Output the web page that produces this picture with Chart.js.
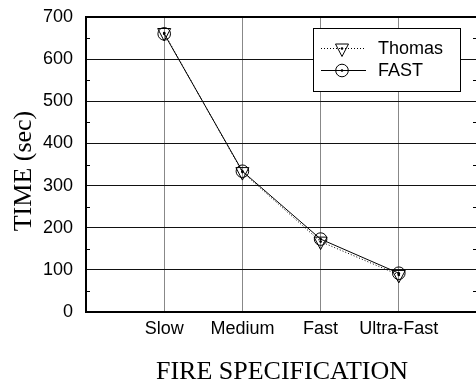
<!DOCTYPE html>
<html>
<head>
<meta charset="utf-8">
<script src="https://cdn.jsdelivr.net/npm/chart.js@4.4.1/dist/chart.umd.min.js"></script>
<style>
  html, body { margin: 0; padding: 0; background: #fff; overflow: hidden; }
  #wrap { width: 476px; height: 383px; overflow: hidden; }
  canvas { display: block; }
</style>
</head>
<body>
<div id="wrap"><canvas id="c" width="482" height="383"></canvas></div>
<script>
// Fire growth classes and time to reach the reference heat release rate
const categories = ['Slow', 'Medium', 'Fast', 'Ultra-Fast'];
const thomasTime = [662, 332, 167, 88];
const fastTime = [660, 334, 173, 92];
const yTicks = [0, 100, 200, 300, 400, 500, 600, 700];

const SANS = "'Liberation Sans', Arial, sans-serif";
const SERIF = "'Liberation Serif', 'Times New Roman', serif";

// Marker glyphs: open circle with centre dot, open down-triangle with centre dot
function drawCircleMarker(ctx, x, y) {
  ctx.beginPath(); ctx.arc(x, y, 6.3, 0, Math.PI * 2); ctx.stroke();
  ctx.beginPath(); ctx.arc(x, y, 1.3, 0, Math.PI * 2); ctx.fill();
}
function drawTriangleMarker(ctx, x, y) {
  ctx.beginPath();
  ctx.moveTo(x - 6.5, y - 4.5); ctx.lineTo(x + 6.5, y - 4.5); ctx.lineTo(x, y + 8);
  ctx.closePath(); ctx.stroke();
  ctx.beginPath(); ctx.arc(x, y, 1.3, 0, Math.PI * 2); ctx.fill();
}
const markerFns = [drawTriangleMarker, drawCircleMarker];

const toPoints = arr => arr.map((v, i) => ({ x: i + 1, y: v }));

// Markers, frame, inner minor ticks, axis titles and boxed legend
const decorations = {
  id: 'decorations',
  afterDatasetsDraw(chart) {
    const { ctx, chartArea: a, scales } = chart;
    const y = scales.y;
    ctx.save();
    ctx.strokeStyle = '#000'; ctx.fillStyle = '#000'; ctx.lineWidth = 1;

    // markers at each data point position
    chart.data.datasets.forEach((ds, di) => {
      chart.getDatasetMeta(di).data.forEach(pt => markerFns[di](ctx, pt.x, pt.y));
    });

    // minor ticks at the half-hundreds, pointing inward on both sides
    for (let v = 50; v < 700; v += 100) {
      const py = Math.round(y.getPixelForValue(v)) + 0.5;
      ctx.beginPath();
      ctx.moveTo(a.left, py); ctx.lineTo(a.left + 4, py);
      ctx.moveTo(a.right - 4, py); ctx.lineTo(a.right, py);
      ctx.stroke();
    }
    // plot frame
    ctx.lineWidth = 2;
    ctx.strokeRect(a.left, a.top, a.right - a.left, a.bottom - a.top);

    // axis titles
    ctx.font = '26px ' + SERIF;
    ctx.textAlign = 'center';
    ctx.textBaseline = 'alphabetic';
    ctx.fillText('FIRE SPECIFICATION', 282, 379);
    ctx.save();
    ctx.translate(31, 171);
    ctx.rotate(-Math.PI / 2);
    ctx.fillText('TIME (sec)', 0, 0);
    ctx.restore();

    // legend box
    const bx = 313, by = 28, bw = 147, bh = 63;
    ctx.fillStyle = '#fff';
    ctx.fillRect(bx, by, bw, bh);
    ctx.lineWidth = 1;
    ctx.strokeRect(bx + 0.5, by + 0.5, bw, bh);
    const rows = [
      { label: 'Thomas', dash: [1, 2], fn: drawTriangleMarker, cy: 48 },
      { label: 'FAST', dash: [], fn: drawCircleMarker, cy: 70 }
    ];
    ctx.font = '18px ' + SANS;
    ctx.textAlign = 'left';
    ctx.textBaseline = 'middle';
    ctx.fillStyle = '#000';
    rows.forEach(r => {
      ctx.setLineDash(r.dash);
      ctx.beginPath();
      ctx.moveTo(321, r.cy + 0.5); ctx.lineTo(366, r.cy + 0.5);
      ctx.stroke();
      ctx.setLineDash([]);
      r.fn(ctx, 342, r.cy + 0.5);
      ctx.fillText(r.label, 378, r.cy + 1);
    });
    ctx.restore();
  }
};

new Chart(document.getElementById('c'), {
  type: 'line',
  data: {
    datasets: [
      {
        label: 'Thomas',
        data: toPoints(thomasTime),
        borderColor: '#000',
        borderWidth: 1,
        borderDash: [1, 2],
        pointRadius: 0,
        tension: 0
      },
      {
        label: 'FAST',
        data: toPoints(fastTime),
        borderColor: '#000',
        borderWidth: 1,
        pointRadius: 0,
        tension: 0
      }
    ]
  },
  options: {
    responsive: false,
    animation: false,
    layout: { padding: { left: 0, right: 5, top: 17, bottom: 0 } },
    plugins: { legend: { display: false }, tooltip: { enabled: false } },
    scales: {
      x: {
        type: 'linear',
        min: 0,
        max: categories.length + 1,
        afterBuildTicks: s => { s.ticks = [0, 1, 2, 3, 4, 5].map(v => ({ value: v })); },
        ticks: {
          callback: v => categories[v - 1] || '',
          font: { family: SANS, size: 18 },
          color: '#000',
          padding: 6,
          maxRotation: 0,
          autoSkip: false
        },
        grid: { color: '#888', lineWidth: 1, drawTicks: false },
        border: { display: false },
        afterFit: s => { s.height = 71; s.paddingLeft = 0; s.paddingRight = 0; }
      },
      y: {
        min: 0,
        max: 700,
        afterBuildTicks: s => { s.ticks = yTicks.map(v => ({ value: v })); },
        ticks: {
          font: { family: SANS, size: 18 },
          color: '#000',
          padding: 13
        },
        grid: { color: '#111', lineWidth: 1, drawTicks: false },
        border: { display: false },
        afterFit: s => { s.width = 86; s.paddingTop = 0; s.paddingBottom = 0; }
      }
    }
  },
  plugins: [decorations]
});
</script>
</body>
</html>
